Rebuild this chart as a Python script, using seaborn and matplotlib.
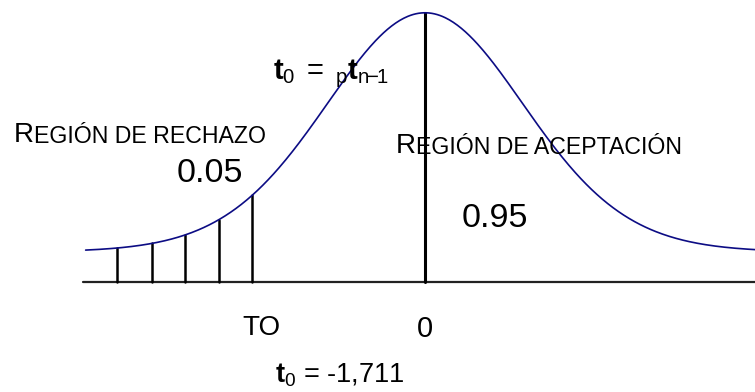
import math
import numpy as np
import pandas as pd
import matplotlib
matplotlib.use("Agg")
import matplotlib.pyplot as plt
import seaborn as sns

# t distribution shown in the sketch
df_t = 24
t_crit = -1.711
t_left, t_right = -3.36, 3.27
lift = 0.0495          # curve sits a bit above the axis line
hatch_t = [-3.05, -2.70, -2.38, -2.04, t_crit]

# texts
rech_big, rech_small = "R", "EGIÓN DE RECHAZO"
acep_big, acep_small = "R", "EGIÓN DE ACEPTACIÓN"
alpha_lbl = "0.05"
conf_lbl = "0.95"
to_lbl = "TO"
zero_lbl = "0"
formula_lbl = r"$\mathbf{t}_0\;=\;{}_\mathrm{p}\mathbf{t}_{\mathrm{n\!\!-\!\!1}}$"
tcrit_lbl = r"$\mathbf{t}_0$ = -1,711"


def t_pdf(t, nu):
    c = math.gamma((nu + 1) / 2) / (math.sqrt(nu * math.pi) * math.gamma(nu / 2))
    return c * (1 + t ** 2 / nu) ** (-(nu + 1) / 2)


sns.set_theme(style="white")
plt.rcParams["font.family"] = ["Liberation Sans", "DejaVu Sans"]
plt.rcParams["text.color"] = "black"
plt.rcParams["mathtext.fontset"] = "custom"
plt.rcParams["mathtext.rm"] = "Liberation Sans"
plt.rcParams["mathtext.it"] = "Liberation Sans"
plt.rcParams["mathtext.bf"] = "Liberation Sans:bold"

t_vals = np.linspace(t_left, t_right, 500)
curve = pd.DataFrame({"t": t_vals, "dens": lift + t_pdf(t_vals, df_t)})

fig = plt.figure(figsize=(7.55, 3.92), dpi=100)
ax = fig.add_axes([0, 0, 1, 1])

# axis line
ax.plot([-3.386, t_right], [0, 0], color="#222222", lw=1.6, zorder=1)

# density curve
sns.lineplot(data=curve, x="t", y="dens", ax=ax, color="#0c0c84", lw=1.2, zorder=3)

# center line
ax.plot([0, 0], [0, lift + t_pdf(0, df_t)], color="black", lw=2.2, zorder=2)

# rejection hatching
for h in hatch_t:
    ax.plot([h, h], [0, lift + t_pdf(h, df_t)], color="black", lw=1.8, zorder=2)

ax.set_xlim(-4.208, 3.267)
ax.set_ylim(-0.1815, 0.4654)
ax.axis("off")

# small caps labels
def small_caps(x, y, big, small):
    t1 = ax.text(x, y, big, transform=ax.transAxes, fontsize=20, va="baseline", ha="left")
    ax.annotate(small, xy=(1, 0), xycoords=t1, fontsize=16.7, va="bottom", ha="left")

small_caps(0.0185, 0.638, rech_big, rech_small)
small_caps(0.5245, 0.6097, acep_big, acep_small)

ax.text(0.2344, 0.5357, alpha_lbl, transform=ax.transAxes, fontsize=24.5, va="baseline")
ax.text(0.612, 0.421, conf_lbl, transform=ax.transAxes, fontsize=24.5, va="baseline")
ax.text(0.3616, 0.7985, formula_lbl, transform=ax.transAxes, fontsize=21, va="baseline")
ax.text(0.3205, 0.1454, to_lbl, transform=ax.transAxes, fontsize=20, va="baseline")
ax.text(0.5523, 0.140, zero_lbl, transform=ax.transAxes, fontsize=21, va="baseline")
ax.text(0.364, 0.0230, tcrit_lbl, transform=ax.transAxes, fontsize=19.5, va="baseline")

fig.savefig("out.png", dpi=100)
